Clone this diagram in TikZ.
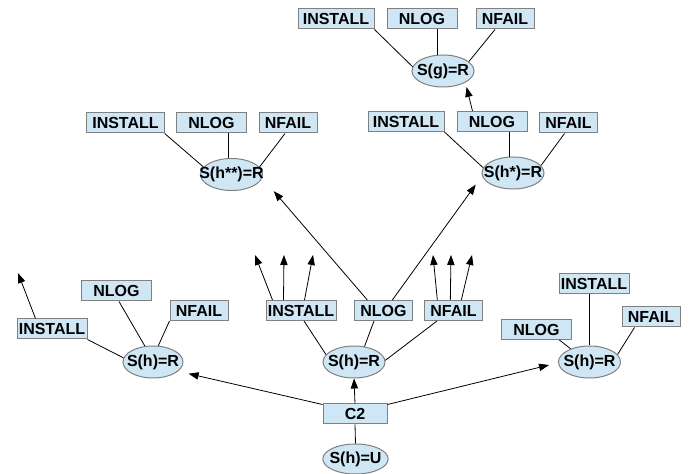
\documentclass[tikz,border=0pt]{standalone}
\usepackage{fontspec}
\usepackage{xcolor}
\usetikzlibrary{shapes.geometric,arrows.meta}
\newfontfamily\labelfont{Liberation Sans}
\definecolor{boxfill}{RGB}{207,231,245}
\definecolor{boxline}{RGB}{128,128,128}

\begin{document}
\begin{tikzpicture}[x=0.75pt,y=-0.75pt,
  font=\labelfont\bfseries\fontsize{12}{14}\selectfont,
  box/.style={draw=boxline,fill=boxfill,line width=0.75pt,inner sep=0pt,minimum height=15pt,minimum width=#1},
  box/.default=52.5pt,
  stnode/.style={ellipse,draw=boxline,fill=boxfill,line width=0.75pt,inner sep=0pt,minimum width=46.5pt,minimum height=24pt},
  conn/.style={line width=0.6pt},
  arr/.style={-{Triangle[length=7.5pt,width=5.5pt]}}]
\useasboundingbox (0,0) rectangle (694,474);

% Top - S(g)
\node[box=57pt] (gInst) at (336,19) {INSTALL};
\node[box] (gNlog) at (422,19) {NLOG};
\node[box=43.5pt] (gNfail) at (505,19) {NFAIL};
\node[stnode,label={center:S(g)=R}] (gS) at (443,71) {};
\draw[conn] (gInst.south east) -- (gS.172);
\draw[conn] (gS.108) -- (gS.108 |- gNlog.south);
\draw[conn] ([shift={(-10,0)}]gNfail.south) -- (gS.20);

% S(h*)
\node[box=57pt] (hsInst) at (406,121.5) {INSTALL};
\node[box] (hsNlog) at (492,121.5) {NLOG};
\node[box=43pt] (hsNfail) at (568.5,123) {NFAIL};
\node[stnode,label={center:S(h*)=R}] (hsS) at (513,173) {};
\draw[conn] (hsInst.south east) -- (hsS.170);
\draw[conn] (hsS.102) -- (hsS.102 |- hsNlog.south);
\draw[conn] ([shift={(-4,0)}]hsNfail.south) -- (hsS.15);
\draw[conn,arr] ([shift={(16,0)}]hsNlog.north west) -- ([shift={(0,5)}]gS.-25);

% S(h**)
\node[box=58pt] (hssInst) at (125.5,123) {INSTALL};
\node[box=53pt] (hssNlog) at (211.5,123) {NLOG};
\node[box=43.5pt] (hssNfail) at (288,123) {NFAIL};
\node[stnode,label={center:S(h**)=R}] (hssS) at (231.5,174.5) {};
\draw[conn] (hssInst.south east) -- (hssS.165);
\draw[conn] (hssS.100) -- (hssS.100 |- hssNlog.south);
\draw[conn] ([shift={(-3,0)}]hssNfail.south) -- (hssS.15);

% Left - S(h)
\node[box] (lInst) at (52,329) {INSTALL};
\node[box=53pt] (lNlog) at (116.5,291) {NLOG};
\node[box=43.5pt] (lNfail) at (199,310.5) {NFAIL};
\node[stnode,minimum width=45pt,label={center:S(h)=R}] (lS) at (153,362) {};
\draw[conn] (lInst.south east) -- (lS.172);
\draw[conn] ([shift={(2.5,0)}]lNlog.south) -- (lS.117);
\draw[conn] (lNfail.south west) -- (lS.72);
\coordinate (li) at (18,273);
\draw[conn,arr] ([shift={(19,0)}]lInst.north west) -- (li);

% Middle - S(h)
\node[box] (mInst) at (301,310.5) {INSTALL};
\node[box=43pt] (mNlog) at (383.5,310.5) {NLOG};
\node[box=43pt] (mNfail) at (453.5,310.5) {NFAIL};
\node[stnode,label={center:S(h)=R}] (mS) at (354,362) {};
\draw[conn] ([shift={(3,0)}]mInst.south) -- (mS.165);
\draw[conn] ([shift={(-9.5,0)}]mNlog.south) -- (mS.56);
\draw[conn] ([shift={(-16.5,0)}]mNfail.south) -- (mS.3);
\foreach \s/\t [count=\i] in {7/255,18/284,39/313} {
  \coordinate (mi\i) at (\t,255);
  \draw[conn,arr] ([shift={(\s,0)}]mInst.north west) -- (mi\i);
}
\foreach \s/\t [count=\i] in {13/433,26/451,37/472} {
  \coordinate (mf\i) at (\t,255);
  \draw[conn,arr] ([shift={(\s,0)}]mNfail.north west) -- (mf\i);
}
\draw[conn,arr] ([shift={(13,0)}]mNlog.north west) -- ([shift={(20,5)}]hssS.south east);
\draw[conn,arr] ([shift={(38,0)}]mNlog.north west) -- ([shift={(-15,0)}]hsS.south west);

% Right - S(h)
\node[box] (rInst) at (594,284) {INSTALL};
\node[box=53pt] (rNlog) at (536.5,329.5) {NLOG};
\node[box=43.5pt] (rNfail) at (651,317) {NFAIL};
\node[stnode,label={center:S(h)=R}] (rS) at (589.5,362) {};
\draw[conn] ([shift={(-13,0)}]rNlog.south east) -- (rS.145);
\draw[conn] (rS.north) -- (rS.north |- rInst.south);
\draw[conn] ([shift={(13,0)}]rNfail.south west) -- (rS.15);

% Bottom - C2
\node[box=48pt] (c2) at (355,414) {C2};
\node[stnode,minimum width=49pt,minimum height=22.5pt,label={center:S(h)=U}] (u) at (355.5,459) {};
\draw[conn] (c2.south) -- (u.north);
\draw[conn,arr] (c2.north) -- (mS.south);
\draw[conn,arr] ([shift={(0,1)}]c2.north west) -- ([shift={(14,0)}]lS.south east);
\draw[conn,arr] ([shift={(0,1)}]c2.north east) -- ([shift={(-9,3)}]rS.west);
\end{tikzpicture}
\end{document}
